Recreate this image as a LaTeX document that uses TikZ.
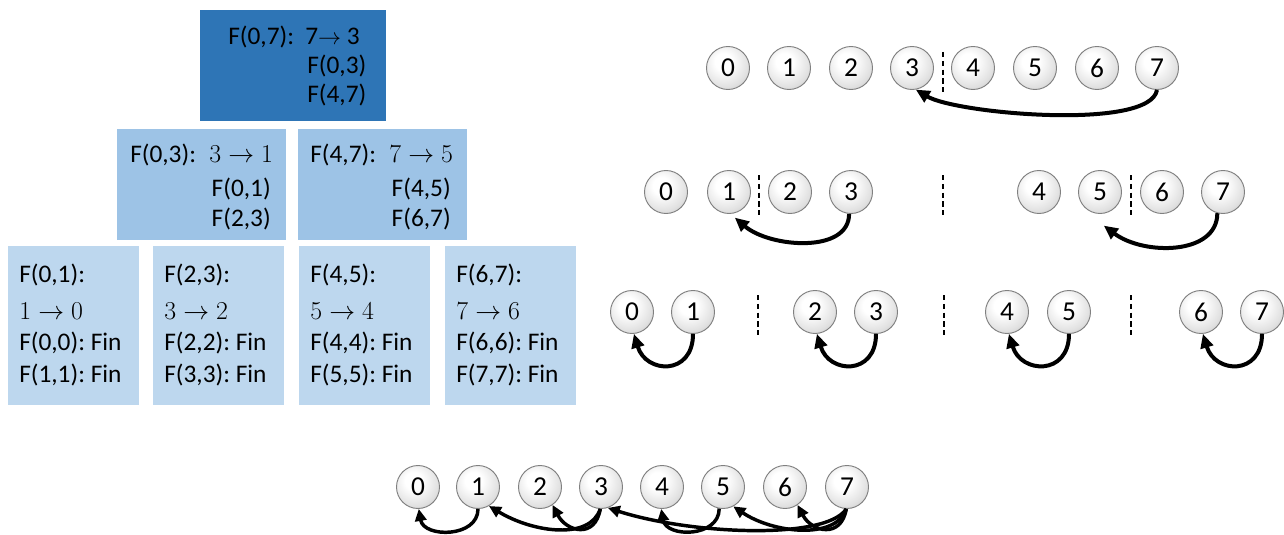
\documentclass[tikz,border=0pt]{standalone}
\usepackage[no-math]{fontspec}
\setmainfont{Carlito}
\usetikzlibrary{arrows.meta,calc}
\pgfdeclareradialshading{ballsh}{\pgfpoint{-6bp}{8bp}}{%
 color(0bp)=(white); color(10bp)=(white); color(28bp)=(black!12); color(42bp)=(black!28); color(50bp)=(black!45); color(100bp)=(black!45)}
\definecolor{topblue}{HTML}{2E75B6}
\definecolor{midblue}{HTML}{9DC3E6}
\definecolor{lowblue}{HTML}{BDD7EE}
\newcommand{\txtsize}{\fontsize{19}{22}\selectfont}
\newcommand{\mth}[1]{\scalebox{1.12}{$#1$}}
\begin{document}
\begin{tikzpicture}[x=0.75pt,y=-0.75pt,
  lbl/.style={anchor=base west, inner sep=0pt, font=\txtsize},
  rlbl/.style={anchor=base east, inner sep=0pt, font=\txtsize},
  boxtop/.style={fill=topblue, minimum width=139.5pt, minimum height=83.25pt, inner sep=0pt},
  boxmid/.style={fill=midblue, minimum width=126.75pt, minimum height=83.25pt, inner sep=0pt},
  boxlow/.style={fill=lowblue, minimum width=98.25pt, minimum height=119.25pt, inner sep=0pt},
  ball/.style={circle, minimum size=32.25pt, inner sep=0pt, draw=black!50, line width=0.7pt, shading=ballsh, font=\fontsize{20.5}{22}\selectfont},
  arr/.style={line width=3pt, -{Triangle[length=10.5pt,width=9.5pt]}},
  arrs/.style={line width=2.6pt, -{Triangle[length=9pt,width=8.5pt]}},
  sep/.style={line width=2.1pt, dash pattern=on 4pt off 2.6pt}
]
\useasboundingbox (0,0) rectangle (1284,535);

% ---------- boxes ----------
\node[boxtop] (B07) at (293,65.5) {};
\node[boxmid] (B03) at (201.5,184.5) {};
\node[boxmid] (B47) at (382.5,184.5) {};
\node[boxlow] (B01) at (73.5,325.5) {};
\node[boxlow] (B23) at (218.5,325.5) {};
\node[boxlow] (B45) at (364.5,325.5) {};
\node[boxlow] (B67) at (510.5,325.5) {};

% top box text
\node[lbl] (t07a) at (228,45) {F(0,7):};
\node[lbl] (t07b) at (305,45) {7$\rightarrow$ 3};
\node[lbl] (t07c) at (307,74) {F(0,3)};
\node[lbl] (t07d) at (307,103) {F(4,7)};

% middle boxes text
\node[lbl] (t03a) at (130,162) {F(0,3):};
\node[lbl] (t03b) at (209,162) {\mth{3 \rightarrow 1}};
\node[rlbl] (t03c) at (271,196) {F(0,1)};
\node[rlbl] (t03d) at (271,226) {F(2,3)};
\node[lbl] (t47a) at (310,162) {F(4,7):};
\node[lbl] (t47b) at (389,162) {\mth{7 \rightarrow 5}};
\node[rlbl] (t47c) at (451,196) {F(4,5)};
\node[rlbl] (t47d) at (451,226) {F(6,7)};

% bottom boxes text
\foreach \x/\a/\b [count=\k] in {19/0/1, 164/2/3, 310/4/5, 456/6/7}{
  \node[lbl] (l\k a) at (\x,282) {F(\a,\b):};
  \node[lbl] (l\k b) at (\x,319) {\mth{\b \rightarrow \a}};
  \node[lbl] (l\k c) at (\x,350) {F(\a,\a):~Fin};
  \node[lbl] (l\k d) at (\x,382) {F(\b,\b):~Fin};
}

% ---------- balls ----------
\foreach \x [count=\i from 0] in {728,789,851,912,973,1035,1097,1157}
  \node[ball] (r1-\i) at (\x,68) {\i};
\foreach \x [count=\i from 0] in {666,729,790,851,1039,1100,1162,1223}
  \node[ball] (r2-\i) at (\x,192) {\i};
\foreach \x [count=\i from 0] in {632,693,815,876,1007,1069,1201,1262}
  \node[ball] (r3-\i) at (\x,312) {\i};
\foreach \x [count=\i from 0] in {418,478,540,601,662,723,785,847}
  \node[ball] (r4-\i) at (\x,487) {\i};

% ---------- separators ----------
\draw[sep] (943,52) -- (943,92);
\draw[sep] (759,175) -- (759,215);
\draw[sep] (943,175) -- (943,215);
\draw[sep] (1131,175) -- (1131,215);
\draw[sep] (758,295) -- (758,335);
\draw[sep] (944,295) -- (944,335);
\draw[sep] (1131,295) -- (1131,335);

% ---------- arrows ----------
% row 1
\draw[arr] (r1-7.south) .. controls +(-7,41) and +(40,24) .. (r1-3.-80);
% row 2
\draw[arr] (r2-3.-95) .. controls +(0,40) and +(35,30) .. ($(r2-1.-80)+(2,4)$);
\draw[arr] (r2-7.-105) .. controls +(0,42) and +(40,30) .. ($(r2-5.-80)+(0,12)$);
% row 3
\foreach \a/\b in {0/1,2/3,4/5,6/7}
  \draw[arr] (r3-\b.south) .. controls +(0,42) and +(12,40) .. (r3-\a.-85);
% row 4
\draw[arrs] (r4-1.south) .. controls +(0,29) and +(5,29) .. (r4-0.-88);
\draw[arrs] (r4-3.-92) .. controls +(-10,31) and +(45,27) .. (r4-1.-60);
\draw[arrs] (r4-3.-92) .. controls +(-5,30) and +(14,27) .. (r4-2.-55);
\draw[arrs] (r4-7.-92) .. controls +(-20,31) and +(85,27) .. (r4-3.-72);
\draw[arrs] (r4-5.-100) .. controls +(0,29) and +(5,29) .. (r4-4.-92);
\draw[arrs] (r4-7.-92) .. controls +(-10,31) and +(40,27) .. (r4-5.-62);
\draw[arrs] (r4-7.-92) .. controls +(-5,30) and +(14,27) .. (r4-6.-55);
\end{tikzpicture}
\end{document}
